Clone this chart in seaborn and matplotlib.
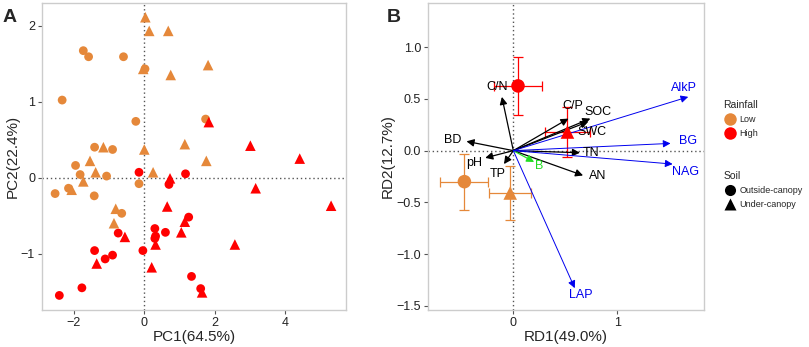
import matplotlib.pyplot as plt
from matplotlib.lines import Line2D
import numpy as np
import pandas as pd
import seaborn as sns

# ---- panel A: PCA scores ----
low_out_x = [-1.73, -1.58, -0.59, 0.02, -2.33, -0.24, 1.74, -1.41, -0.90, -1.95, -1.82, -1.07, -2.15, -2.53, -1.42, -0.15, -0.64]
low_out_y = [1.67, 1.59, 1.59, 1.43, 1.02, 0.74, 0.77, 0.40, 0.37, 0.16, 0.04, 0.02, -0.14, -0.21, -0.24, -0.08, -0.47]
low_und_x = [0.03, 0.14, 0.68, -0.03, 1.81, 0.75, 1.15, 1.76, 0.00, -1.16, -1.54, -1.38, -1.73, 0.25, -2.06, -0.81, -0.86]
low_und_y = [2.11, 1.93, 1.93, 1.43, 1.48, 1.35, 0.44, 0.22, 0.37, 0.40, 0.22, 0.07, -0.05, 0.07, -0.16, -0.41, -0.60]
high_out_x = [-0.15, 1.17, 0.70, 1.26, 0.30, 0.60, 0.30, -0.74, -0.04, -1.41, -0.90, -1.11, 1.34, 1.60, -1.77, -2.41, 0.32]
high_out_y = [0.07, 0.05, -0.09, -0.52, -0.67, -0.72, -0.80, -0.73, -0.96, -0.96, -1.02, -1.07, -1.30, -1.46, -1.45, -1.55, -0.77]
high_und_x = [1.83, 3.01, 4.41, 0.73, 3.16, 5.30, 0.65, 1.15, 1.05, 2.57, -0.55, 0.32, 0.21, -1.35, 1.64]
high_und_y = [0.73, 0.42, 0.25, -0.01, -0.14, -0.37, -0.38, -0.58, -0.72, -0.88, -0.78, -0.88, -1.18, -1.13, -1.51]

# ---- panel B: RDA centroids (mean +- error) ----
cent_rain = ["High", "High", "Low", "Low"]
cent_soil = ["Outside-canopy", "Under-canopy", "Outside-canopy", "Under-canopy"]
cent_x = [0.045, 0.52, -0.47, -0.03]
cent_y = [0.626, 0.18, -0.30, -0.41]
cent_xerr = [0.23, 0.22, 0.23, 0.20]
cent_yerr = [0.28, 0.24, 0.27, 0.26]

# ---- panel B: arrows ----
arrow_names = ["C/N", "C/P", "SOC", "SWC", "BD", "pH", "TP", "TN", "AN", "B", "AlkP", "BG", "NAG", "LAP"]
arrow_x = [-0.11, 0.53, 0.74, 0.72, -0.45, -0.27, -0.09, 0.64, 0.67, 0.20, 1.68, 1.51, 1.53, 0.59]
arrow_y = [0.52, 0.31, 0.31, 0.28, 0.09, -0.07, -0.13, -0.02, -0.24, -0.11, 0.52, 0.07, -0.13, -1.33]
label_x = [-0.16, 0.57, 0.81, 0.76, -0.58, -0.38, -0.15, 0.75, 0.81, 0.25, 1.64, 1.68, 1.65, 0.65]
label_y = [0.62, 0.43, 0.37, 0.18, 0.10, -0.12, -0.23, -0.02, -0.25, -0.15, 0.61, 0.09, -0.21, -1.40]
arrow_group = ["env", "env", "env", "env", "env", "env", "env", "env", "env", "B", "enz", "enz", "enz", "enz"]

ORANGE = "#E5883A"
RED = "#FF0000"
pal = {"Low": ORANGE, "High": RED}
mk = {"Outside-canopy": "o", "Under-canopy": "^"}
arrow_col = {"env": "black", "B": "#22DD22", "enz": "#0000EE"}

df_a = pd.concat([
    pd.DataFrame({"PC1": low_out_x, "PC2": low_out_y, "Rainfall": "Low", "Soil": "Outside-canopy"}),
    pd.DataFrame({"PC1": low_und_x, "PC2": low_und_y, "Rainfall": "Low", "Soil": "Under-canopy"}),
    pd.DataFrame({"PC1": high_out_x, "PC2": high_out_y, "Rainfall": "High", "Soil": "Outside-canopy"}),
    pd.DataFrame({"PC1": high_und_x, "PC2": high_und_y, "Rainfall": "High", "Soil": "Under-canopy"}),
], ignore_index=True)
df_b = pd.DataFrame({"RD1": cent_x, "RD2": cent_y, "Rainfall": cent_rain, "Soil": cent_soil})

sns.set_theme(style="white")
plt.rcParams['font.family'] = ['Liberation Sans', 'DejaVu Sans']

fig = plt.figure(figsize=(8.09, 3.47), dpi=100)
axA = fig.add_axes([0.052, 0.107, 0.376, 0.885])
axB = fig.add_axes([0.529, 0.107, 0.341, 0.885])

def style_ax(ax):
    for s in ax.spines.values():
        s.set_color("#CCCCCC")
        s.set_linewidth(1.0)
    ax.tick_params(axis="both", which="both", length=3, width=0.8, color="#555555",
                   labelsize=9, labelcolor="#222222", direction="out", pad=2,
                   bottom=True, left=True)
    ax.axhline(0, color="#555555", ls=(0, (1, 2)), lw=1.0, zorder=0)
    ax.axvline(0, color="#555555", ls=(0, (1, 2)), lw=1.0, zorder=0)

# panel A
sns.scatterplot(data=df_a[df_a.Soil == "Outside-canopy"], x="PC1", y="PC2", hue="Rainfall",
                palette=pal, marker="o", s=40, linewidth=0, legend=False, ax=axA)
sns.scatterplot(data=df_a[df_a.Soil == "Under-canopy"], x="PC1", y="PC2", hue="Rainfall",
                palette=pal, marker="^", s=58, linewidth=0, legend=False, ax=axA)
axA.set_xlim(-2.9, 5.73)
axA.set_ylim(-1.74, 2.3)
axA.set_xticks([-2, 0, 2, 4])
axA.set_yticks([-1, 0, 1, 2])
axA.set_xticklabels(["\u22122", "0", "2", "4"])
axA.set_yticklabels(["\u22121", "0", "1", "2"])
axA.set_xlabel("PC1(64.5%)", fontsize=11, labelpad=1)
axA.set_ylabel("PC2(22.4%)", fontsize=11, labelpad=1)
style_ax(axA)

# panel B
for i in range(len(arrow_names)):
    c = arrow_col[arrow_group[i]]
    lw = 0.7 if arrow_group[i] == "enz" else 0.9
    axB.annotate("", xy=(arrow_x[i], arrow_y[i]), xytext=(0, 0),
                 arrowprops=dict(arrowstyle="-|>", color=c, lw=lw, mutation_scale=11,
                                 shrinkA=0, shrinkB=0), zorder=3)
    axB.text(label_x[i], label_y[i], arrow_names[i], color=c, fontsize=9,
             ha="center", va="center", zorder=4)

for i in range(len(cent_x)):
    c = pal[cent_rain[i]]
    axB.errorbar(cent_x[i], cent_y[i], xerr=cent_xerr[i], yerr=cent_yerr[i], fmt="none",
                 ecolor=c, elinewidth=0.9, capsize=3.5, capthick=0.9, zorder=2)
sns.scatterplot(data=df_b, x="RD1", y="RD2", hue="Rainfall", style="Soil", palette=pal,
                markers=mk, s=95, linewidth=0, legend=False, ax=axB, zorder=3)
axB.set_xlim(-0.82, 1.83)
axB.set_ylim(-1.54, 1.43)
axB.set_xticks([0, 1])
axB.set_yticks([-1.5, -1.0, -0.5, 0.0, 0.5, 1.0])
axB.set_yticklabels(["\u22121.5", "\u22121.0", "\u22120.5", "0.0", "0.5", "1.0"])
axB.set_xlabel("RD1(49.0%)", fontsize=11, labelpad=1)
axB.set_ylabel("RD2(12.7%)", fontsize=11, labelpad=1)
style_ax(axB)

# panel letters
fig.text(0.003, 0.975, "A", fontsize=14, fontweight="bold", va="top")
fig.text(0.478, 0.975, "B", fontsize=14, fontweight="bold", va="top")

# legends
rain_h = [Line2D([], [], ls="", marker="o", ms=9, color=pal[k], mec="none") for k in ["Low", "High"]]
soil_h = [Line2D([], [], ls="", marker=mk[k], ms=8, color="black", mec="none") for k in ["Outside-canopy", "Under-canopy"]]
leg1 = fig.legend(rain_h, ["Low", "High"], title="Rainfall", loc="upper left",
                  bbox_to_anchor=(0.884, 0.735), frameon=False, fontsize=6.5,
                  title_fontsize=7.5, handletextpad=0.4, labelspacing=0.55, handlelength=1.4)
leg1._legend_box.align = "left"
leg2 = fig.legend(soil_h, ["Outside-canopy", "Under-canopy"], title="Soil", loc="upper left",
                  bbox_to_anchor=(0.884, 0.53), frameon=False, fontsize=6.5,
                  title_fontsize=7.5, handletextpad=0.4, labelspacing=0.55, handlelength=1.4)
leg2._legend_box.align = "left"

fig.savefig("out.png", dpi=100)
